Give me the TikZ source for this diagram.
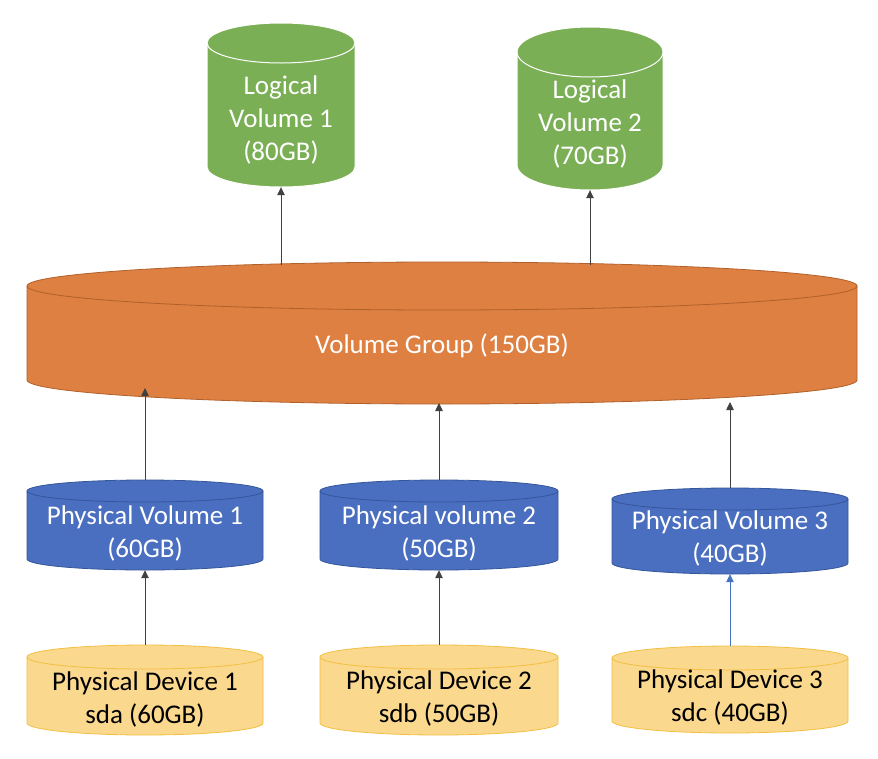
\documentclass[tikz,border=0pt]{standalone}
\usepackage{fontspec}
\setmainfont{Carlito}
\usetikzlibrary{arrows.meta}
\definecolor{lvfill}{HTML}{7BAF55}
\definecolor{vgfill}{HTML}{DE8041}
\definecolor{vgline}{HTML}{B0602A}
\definecolor{pvfill}{HTML}{4A6FC0}
\definecolor{pvline}{HTML}{34569A}
\definecolor{pdfill}{HTML}{FAD88E}
\definecolor{pdline}{HTML}{F2C040}
\definecolor{arrblue}{HTML}{4472C4}
\tikzset{
  cyltext/.style={font=\fontsize{27}{33}\selectfont, align=center, inner sep=0pt},
  lvstyle/.style={fill=lvfill, draw=white, line width=1pt, text=white},
  vgstyle/.style={fill=vgfill, draw=vgline, line width=0.8pt, text=white},
  pvstyle/.style={fill=pvfill, draw=pvline, line width=0.8pt, text=white},
  pdstyle/.style={fill=pdfill, draw=pdline, line width=0.8pt, text=black},
  arr/.style={draw=black!75, line width=0.8pt, -{Triangle[width=7.5pt,length=8pt]}},
}
% #1 name, #2 cx, #3 top ellipse centre y, #4 bottom ellipse centre y,
% #5 rx, #6 ry, #7 style, #8 text centre y, #9 text
\newcommand\drawcyl[9]{%
  \path[#7] ({#2-#5},#3) -- ({#2-#5},#4)
     arc[start angle=180,end angle=360,x radius=#5pt,y radius=#6pt]
     -- ({#2+#5},#3)
     arc[start angle=0,end angle=180,x radius=#5pt,y radius=#6pt] -- cycle;
  \draw[#7,fill=none] ({#2-#5},#3)
     arc[start angle=180,end angle=360,x radius=#5pt,y radius=#6pt];
  \node[draw=none,fill=none,inner sep=0pt,minimum width={2*#5pt},
        minimum height={(#4-#3+2*#6)*1pt}] (#1) at (#2,{(#3+#4)/2}) {};
  \node[#7,draw=none,fill=none,cyltext] (#1-label) at (#2,#8) {#9};
}
\begin{document}
\begin{tikzpicture}[x=1pt,y=-1pt]
\useasboundingbox[fill=white] (0,0) rectangle (878,758);

\drawcyl{lv1}{281}{43}{167}{74}{20}{lvstyle}{120}{Logical\\Volume 1\\(80GB)}
\drawcyl{lv2}{590}{52}{165}{73}{25}{lvstyle}{124}{Logical\\Volume 2\\(70GB)}
\drawcyl{vg}{442}{286}{380}{415}{24}{vgstyle}{346}{Volume Group (150GB)}
\drawcyl{pv1}{145}{491}{559}{118}{11}{pvstyle}{533.5}{Physical Volume 1\\(60GB)}
\drawcyl{pv2}{439}{491}{559}{119}{11}{pvstyle}{533.5}{Physical volume 2\\(50GB)}
\drawcyl{pv3}{730}{499}{563}{118}{11}{pvstyle}{538.5}{Physical Volume 3\\(40GB)}
\drawcyl{pd1}{145}{657}{723}{118}{12}{pdstyle}{699}{Physical Device 1\\sda (60GB)}
\drawcyl{pd2}{439}{657}{723}{119}{12}{pdstyle}{698.5}{Physical Device 2\\sdb (50GB)}
\drawcyl{pd3}{730}{658}{721}{118}{12}{pdstyle}{697.5}{Physical Device 3\\sdc (40GB)}

\coordinate (vgout1) at (281,265);
\coordinate (vgout2) at (590,265);
\coordinate (vgin1) at (145,388);
\coordinate (vgin2) at (439,403);
\coordinate (vgin3) at (730,402);

\draw[arr] (vgout1) -- (lv1.south);
\draw[arr] (vgout2) -- (lv2.south);
\draw[arr] (pv1.north) -- (vgin1);
\draw[arr] (pv2.north) -- (vgin2);
\draw[arr] (pv3.north) -- (vgin3);
\draw[arr] (pd1.north) -- (pv1.south);
\draw[arr] (pd2.north) -- (pv2.south);
\draw[arr, draw=arrblue, line width=0.6pt] (pd3.north) -- (pv3.south);
\end{tikzpicture}
\end{document}
